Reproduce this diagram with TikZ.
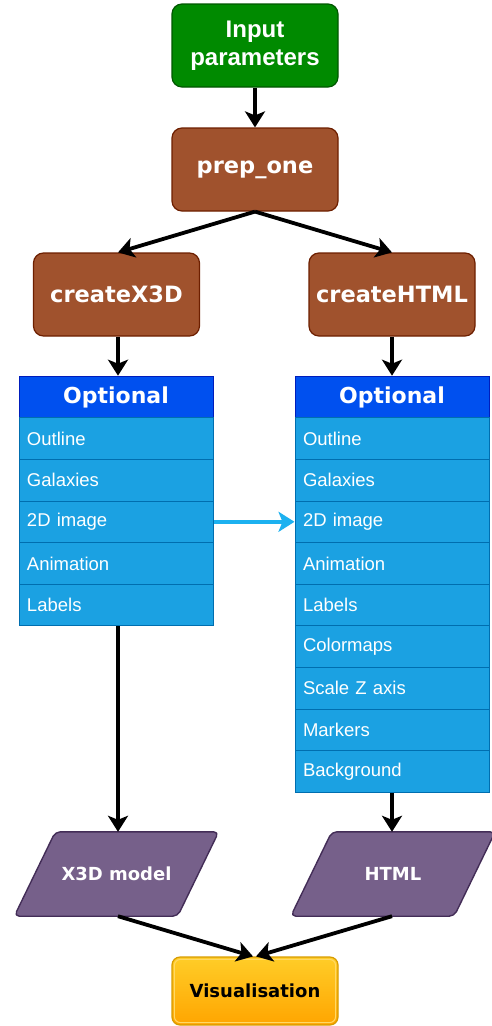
\documentclass[tikz,border=0pt]{standalone}
\usepackage{fontspec}
\usetikzlibrary{arrows.meta,shapes.geometric}
\newfontfamily\arialfont{Liberation Sans}
\newfontfamily\verdfont{DejaVu Sans}

\definecolor{greenfill}{HTML}{008A00}
\definecolor{greenline}{HTML}{005700}
\definecolor{brownfill}{HTML}{A0522D}
\definecolor{brownline}{HTML}{6D1F00}
\definecolor{headfill}{HTML}{0050EF}
\definecolor{headline}{HTML}{001DBC}
\definecolor{rowfill}{HTML}{1BA1E2}
\definecolor{rowline}{HTML}{006EAF}
\definecolor{purplefill}{HTML}{76608A}
\definecolor{purpleline}{HTML}{432D57}
\definecolor{goldtop}{HTML}{FFCD28}
\definecolor{goldbottom}{HTML}{FFA500}
\definecolor{goldline}{HTML}{D79B00}
\definecolor{goldinner}{HTML}{FFD966}
\definecolor{linkblue}{HTML}{1CB1F0}

\tikzset{
  flow/.style={line width=3.8pt, draw=black,
    -{Stealth[length=16pt,width=20pt,inset=4pt]}},
  bluelink/.style={line width=3.8pt, draw=linkblue,
    -{Stealth[length=16pt,width=20pt,inset=4pt]}},
  procbox/.style={rectangle, rounded corners=10pt, line width=1.2pt,
    minimum width=166pt, minimum height=83pt, text=white,
    font=\verdfont\bfseries\fontsize{22.5}{26}\selectfont, align=center},
  inputbox/.style={procbox, fill=greenfill, draw=greenline,
    font=\arialfont\bfseries\fontsize{24}{28}\selectfont},
  brownbox/.style={procbox, fill=brownfill, draw=brownline},
  headrow/.style={rectangle, fill=headfill, draw=headline, line width=1pt,
    minimum height=41.6pt, text width=178pt, inner xsep=8pt, align=center,
    text=white, font=\verdfont\bfseries\fontsize{22}{26}\selectfont},
  itemrow/.style={rectangle, fill=rowfill, draw=rowline, line width=1pt,
    minimum height=41.6pt, text width=178pt, inner xsep=8pt, align=left,
    text=white, font=\arialfont\fontsize{18.5}{22}\selectfont},
  iobox/.style={rectangle, minimum width=163pt, minimum height=84pt,
    text=white, font=\verdfont\bfseries\fontsize{18}{22}\selectfont},
  iofill/.style={fill=purplefill, draw=purpleline, line width=1.4pt,
    rounded corners=5pt, line join=round},
  resultbox/.style={rectangle, rounded corners=8pt, line width=1.2pt,
    draw=goldline, top color=goldtop, bottom color=goldbottom,
    minimum width=166pt, minimum height=68pt, text=black,
    font=\verdfont\bfseries\fontsize{18}{22}\selectfont},
}

\begin{document}
\begin{tikzpicture}[x=1pt,y=-1pt]
\useasboundingbox (0,0) rectangle (491,1026);

% processing chain
\node[inputbox] (input) at (255,45.5) {Input\\parameters};
\node[brownbox] (prep) at (255,169.5) {prep\_one};
\node[brownbox] (cx3d) at (116.5,294.5) {createX3D};
\node[brownbox] (chtml) at (392,294.5) {createHTML};

% option tables
\node[headrow] (lhead) at (116,397) {Optional};
\node[headrow] (rhead) at (392,397) {Optional};
\foreach \t [count=\i] in {Outline,Galaxies,2D image,Animation,Labels}
  \node[itemrow] (l\i) at (116,397+41.6*\i) {\t};
\foreach \t [count=\i] in {Outline,Galaxies,2D image,Animation,Labels,
    Colormaps,Scale Z axis,Markers,Background}
  \node[itemrow] (r\i) at (392,397+41.6*\i) {\t};

% outputs (parallelograms leaning right)
\node[iobox] (x3d) at (116.5,874) {X3D model};
\node[iobox] (html) at (393,874) {HTML};
\foreach \n in {x3d,html}
  \draw[iofill] ([xshift=20.5pt]\n.north west) -- ([xshift=20.5pt]\n.north east)
    -- ([xshift=-20.5pt]\n.south east) -- ([xshift=-20.5pt]\n.south west) -- cycle;
\node[iobox] at (x3d) {X3D model};
\node[iobox] at (html) {HTML};

% final result
\node[resultbox] (vis) at (255,991) {Visualisation};
\draw[goldinner, line width=1pt, rounded corners=6pt]
  ([shift={(3,3)}]vis.north west) rectangle ([shift={(-3,-3)}]vis.south east);

% connectors
\draw[flow] (input.south) -- (prep.north);
\draw[flow] (prep.south) -- ([xshift=1.5pt]cx3d.north);
\draw[flow] (prep.south) -- (chtml.north);
\draw[flow] ([xshift=1.5pt]cx3d.south) -- ([xshift=2pt]lhead.north);
\draw[flow] (chtml.south) -- (rhead.north);
\draw[bluelink] (l3.east) -- (r3.west);
\draw[flow] ([xshift=2pt]l5.south) -- ([xshift=1.5pt]x3d.north);
\draw[flow] (r9.south) -- ([xshift=-1pt]html.north);
\draw[flow] ([xshift=1.5pt]x3d.south) -- ([xshift=-2pt]vis.north);
\draw[flow] ([xshift=-1pt]html.south) -- ([xshift=1pt]vis.north);
\end{tikzpicture}
\end{document}
